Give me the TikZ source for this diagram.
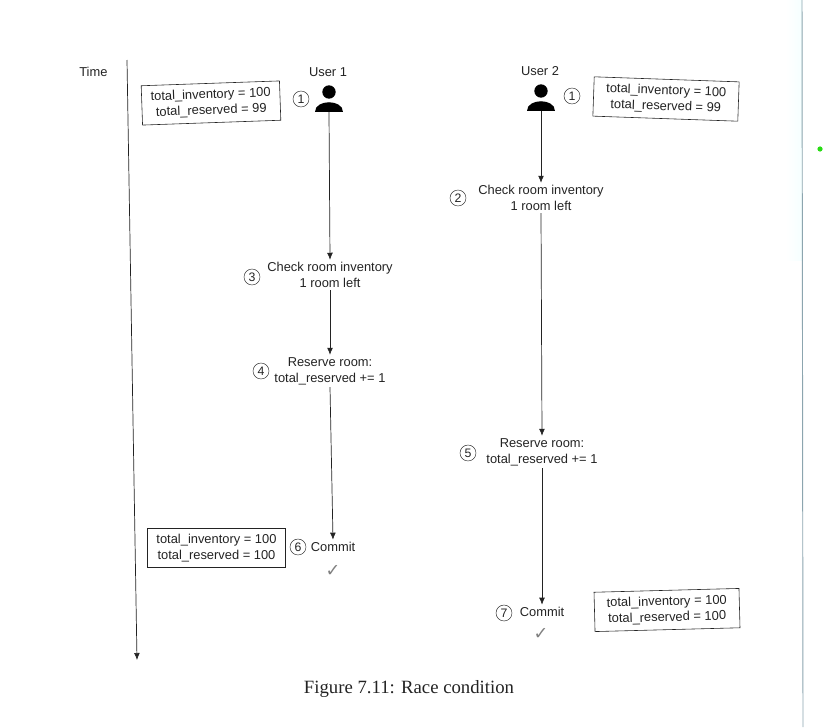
\documentclass[tikz,border=0pt]{standalone}
\usepackage{fontspec}
\setmainfont{Liberation Sans}
\newfontfamily\captionfont{Liberation Serif}
\newfontfamily\symbolfont{DejaVu Sans}
\usepackage{xcolor}
\usetikzlibrary{arrows.meta,positioning}
\definecolor{inkdark}{RGB}{35,35,35}
\definecolor{scanedge}{RGB}{140,165,175}
\definecolor{dotgreen}{RGB}{40,220,20}
\tikzset{
  flow/.style={inkdark,line width=0.6pt,-{Latex[length=6pt,width=5pt]}},
  stepnote/.style={align=center,inner sep=2pt,text=inkdark,font=\fontsize{11}{13.5}\selectfont},
  stepnum/.style={draw=inkdark,circle,inner sep=0pt,minimum size=0.48cm,text=inkdark,font=\fontsize{10.5}{11}\selectfont},
  statebox/.style={draw=inkdark,line width=0.5pt,align=center,inner sep=0pt,text=inkdark,
    minimum width=4.15cm,minimum height=1.18cm,font=\fontsize{11}{13.5}\selectfont},
  usermark/.style={inner sep=0pt,minimum width=0.8cm,minimum height=0.66cm},
  donemark/.style={text=gray,inner sep=0pt,font=\symbolfont\fontsize{15}{15}\selectfont},
}
\begin{document}
\begin{tikzpicture}[x=0.03cm,y=-0.03cm]
  \useasboundingbox (0,0) rectangle (824,727);
  % scan edge of the page, right side
  \shade[left color=white,right color=cyan!4] (786,0) rectangle (802,260);
  \draw[scanedge,line width=0.8pt] (802,0) -- (803,727);
  \fill[dotgreen] (820,149) circle (2.6);
  % time axis
  \node[stepnote,anchor=east] (timelabel) at (110,72) {Time};
  \coordinate (timetop) at (127,60);
  \coordinate (timeend) at (137,660);
  \draw[flow] (timetop) -- (timeend);
  % users
  \node[stepnote] (labelone) at (328,72) {User 1};
  \node[stepnote] (labeltwo) at (540,71) {User 2};
  \node[usermark] (userone) at (329,101) {};
  \node[usermark] (usertwo) at (541,100) {};
  \foreach \u in {userone,usertwo}{
    \fill[black] ([yshift=0.27cm]\u.center) circle (0.2cm);
    \fill[black] (\u.south west) .. controls +(0,0.4cm) and +(0,0.4cm) .. (\u.south east) -- cycle;}
  % step circles
  \node[stepnum] (numoneu) at (301,99) {1};
  \node[stepnum] (numonev) at (572,96) {1};
  \node[stepnum] (numtwo) at (458,198) {2};
  \node[stepnum] (numthree) at (252,277) {3};
  \node[stepnum] (numfour) at (261,371) {4};
  \node[stepnum] (numfive) at (468,453) {5};
  \node[stepnum] (numsix) at (298,547) {6};
  \node[stepnum] (numseven) at (504,613) {7};
  % user 1 steps
  \node[stepnote] (checkone) at (330,275) {Check room inventory\\1 room left};
  \node[stepnote] (reserveone) at (330,371) {Reserve room:\\total\_reserved += 1};
  \node[stepnote] (commitone) at (333,547) {Commit};
  \node[donemark] (doneone) at (333,571) {✓};
  \draw[flow] (userone.south) -- (checkone.north);
  \draw[flow] (checkone.south) -- (reserveone.north);
  \draw[flow] (reserveone.south) -- (commitone.north);
  % user 2 steps
  \node[stepnote] (checktwo) at (541,198) {Check room inventory\\1 room left};
  \node[stepnote] (reservetwo) at (542,452) {Reserve room:\\total\_reserved += 1};
  \node[stepnote] (committwo) at (542,612) {Commit};
  \node[donemark] (donetwo) at (541,634) {✓};
  \draw[flow] (usertwo.south) -- (checktwo.north);
  \draw[flow] (checktwo.south) -- (reservetwo.north);
  \draw[flow] (reservetwo.south) -- (committwo.north);
  % database state boxes
  \node[statebox,rotate=2] (stateone) at (211,103) {total\_inventory = 100\\total\_reserved = 99};
  \node[statebox,rotate=-2,minimum width=4.35cm] (statetwo) at (666,99) {total\_inventory = 100\\total\_reserved = 99};
  \node[statebox] (statesix) at (216.5,548) {total\_inventory = 100\\total\_reserved = 100};
  \node[statebox,rotate=1.5,minimum width=4.35cm] (stateseven) at (667,610) {total\_inventory = 100\\total\_reserved = 100};
  % caption
  \node[text=inkdark,font=\captionfont\fontsize{16}{18}\selectfont] (figcaption) at (409,689) {Figure 7.11: Race condition};
\end{tikzpicture}
\end{document}
